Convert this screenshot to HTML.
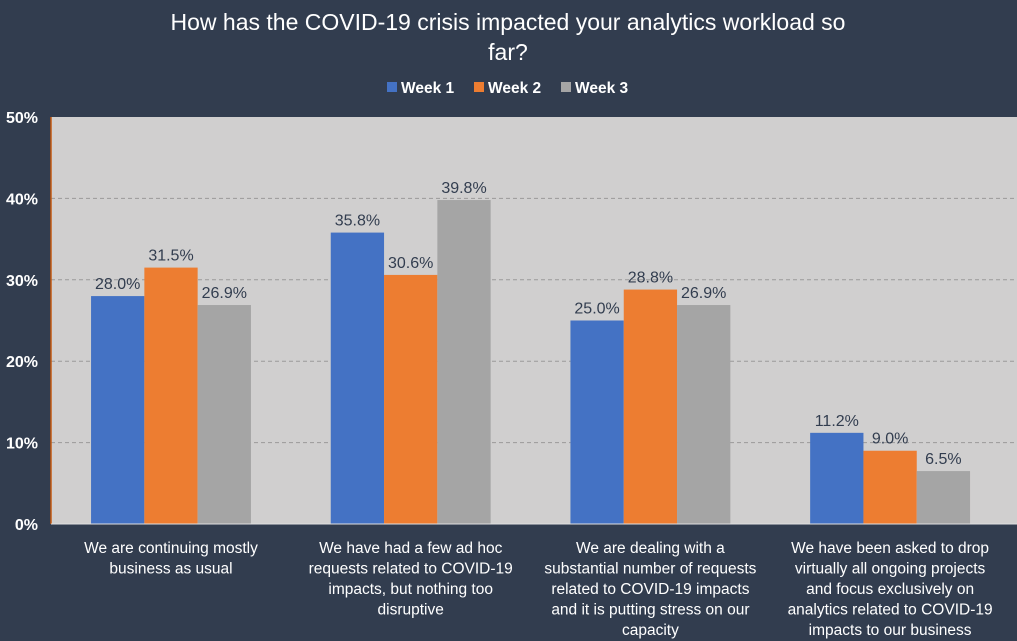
<!DOCTYPE html>
<html><head><meta charset="utf-8"><style>
html,body{margin:0;padding:0;background:#323d4f;}
svg{display:block;font-family:"Liberation Sans",Arial,sans-serif;}
</style></head><body>
<svg id="chart" width="1017" height="641">
<rect width="1017" height="641" fill="#323d4f"/>
<text x="508" y="30" text-anchor="middle" fill="#fff" font-size="23">How has the COVID-19 crisis impacted your analytics workload so</text>
<text x="508" y="60" text-anchor="middle" fill="#fff" font-size="23">far?</text>
<g id="legend"></g>
<rect x="51" y="117" width="966" height="407" fill="#d0cfcf"/>
<g id="grid"></g><g id="bars"></g><g id="labels"></g><g id="axes"></g>
</svg>
<script>
const categories=[["We are continuing mostly","business as usual"],["We have had a few ad hoc","requests related to COVID-19","impacts, but nothing too","disruptive"],["We are dealing with a","substantial number of requests","related to COVID-19 impacts","and it is putting stress on our","capacity"],["We have been asked to drop","virtually all ongoing projects","and focus exclusively on","analytics related to COVID-19","impacts to our business"]];
const seriesNames=["Week 1","Week 2","Week 3"];
const week1=[28.0,35.8,25.0,11.2];
const week2=[31.5,30.6,28.8,9.0];
const week3=[26.9,39.8,26.9,6.5];
const yTicks=[0,10,20,30,40,50];
const colors=["#4472c4","#ed7d31","#a5a5a5"];
const NS="http://www.w3.org/2000/svg";
const L=51,R=1017,T=117,B=524,yMax=50;
const y=v=>B-(v/yMax)*(B-T);
const gw=239.7, firstC=171, bw=53.3;
function mk(tag,attrs,parent,text){const e=document.createElementNS(NS,tag);for(const k in attrs)e.setAttribute(k,attrs[k]);if(text!==undefined)e.textContent=text;document.getElementById(parent).appendChild(e);return e;}
yTicks.forEach(t=>{
 if(t>0&&t<yMax){const g=mk('line',{x1:L,x2:R,y1:y(t),y2:y(t),stroke:'#9a9a9a','stroke-dasharray':'4,3'},'grid');
 
 }
 const tl=mk('text',{x:38,y:y(t)+6,'text-anchor':'end',fill:'#fff','font-size':'16','font-weight':'bold'},'axes',t+'%');
 
 
});
const ax=mk('line',{x1:L,x2:L,y1:T,y2:B,stroke:'#c55a11','stroke-width':1.5},'axes');


const bx=mk('line',{x1:L,x2:R,y1:B,y2:B,stroke:'#e0e0e0','stroke-width':1},'axes');


const all=[week1,week2,week3];
categories.forEach((c,i)=>{
 const cx=firstC+gw*i;
 all.forEach((s,j)=>{
  const x=cx-1.5*bw+j*bw, v=s[i];
  const r=mk('rect',{x:x,y:y(v),width:bw,height:B-y(v),fill:colors[j]},'bars');
  
  
  const t=mk('text',{x:x+bw/2,y:y(v)-7,'text-anchor':'middle',fill:'#323d4f','font-size':'16'},'labels',v.toFixed(1)+'%');
  
  
 });
 c.forEach((line,k)=>{
  const t=mk('text',{x:cx,y:553+k*20.5,'text-anchor':'middle',fill:'#fff','font-size':'15.5'},'axes',line);
  
  
 });
});
const lx=[387,474,561];
seriesNames.forEach((n,j)=>{
 const r=mk('rect',{x:lx[j],y:82,width:10,height:10,fill:colors[j]},'legend');
 
 
 const t=mk('text',{x:lx[j]+14,y:93,fill:'#fff','font-size':'15.5','font-weight':'bold'},'legend',n);
 
 
});
</script>
</body></html>
